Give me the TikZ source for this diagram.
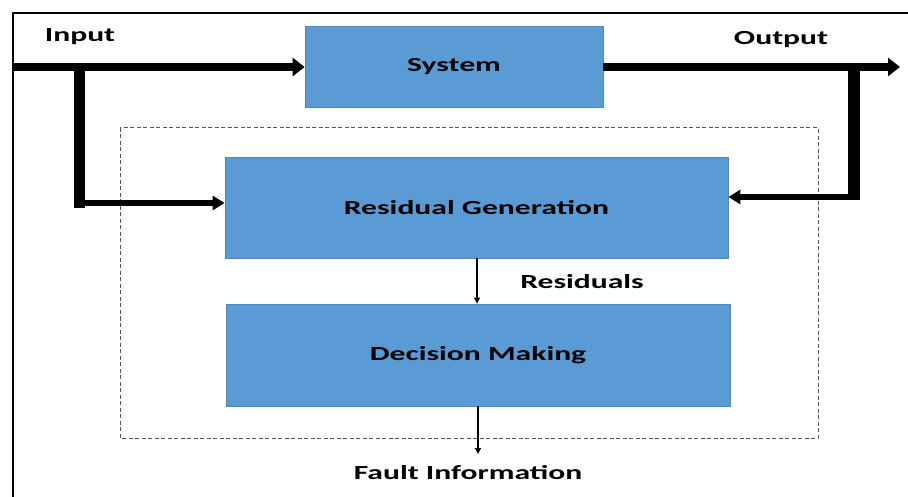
\documentclass[tikz,border=0pt]{standalone}
\usepackage{fontspec}
\setmainfont{Carlito}
\newfontfamily\widefont[FakeStretch=1.58]{Carlito}
\usetikzlibrary{arrows.meta}
\definecolor{boxfill}{HTML}{5B9BD5}
\definecolor{boxedge}{HTML}{4F88C0}
\definecolor{dashgray}{HTML}{555555}
\begin{document}
\begin{tikzpicture}[x=1pt,y=-1pt,
  block/.style={draw=boxedge,line width=0.8pt,fill=boxfill,inner sep=0pt,
    font=\widefont\bfseries\fontsize{20}{24}\selectfont,text=black},
  lbl/.style={font=\widefont\bfseries\fontsize{20}{24}\selectfont,inner sep=0pt},
  heavy/.style={line width=8pt},
  thin arrow/.style={line width=1.2pt,-{Triangle[length=6pt,width=6pt]}},
  big head/.style={-{Triangle[length=12pt,width=18pt]}},
  mid head/.style={-{Triangle[length=12pt,width=14pt]}}]
\useasboundingbox (0,0) rectangle (908,497);
% frame lines
\draw[line width=2.5pt] (13,497) -- (13,13) -- (910,13);

% blocks
\node[block,minimum width=298pt,minimum height=81pt] (sys) at (454,66.5) {System};
\node[block,minimum width=503pt,minimum height=101pt] (rg) at (476.5,207.5) {Residual Generation};
\node[block,minimum width=504pt,minimum height=102pt] (dm) at (478,355) {Decision Making};

% dashed enclosure
\draw[dashgray,line width=1pt,dash pattern=on 4pt off 2.5pt] (120,128) rectangle (818,438);

% labels
\node[lbl] (inlbl) at (80,37) {Input};
\node[lbl] (outlbl) at (781,40) {Output};
\node[lbl] (reslbl) at (582,282) {Residuals};
\node[lbl] (faultlbl) at (468,473) {Fault Information};

% signal coordinates
\coordinate (in0) at (12,67);
\coordinate (inbr) at (79,67);
\coordinate (out1) at (900,67);
\coordinate (outbr) at (854,67);
\coordinate (fault) at (478,454);

% input path and branch
\draw[heavy,big head] (in0) -- (sys.west |- in0);
\draw[line width=11pt] (inbr) -- (inbr |- 0,208);
\draw[line width=6pt,mid head] (73.5,203) -- (rg.west |- 0,203);

% output path and branch
\draw[heavy,big head] (sys.east |- out1) -- (out1);
\draw[line width=12pt] (outbr) -- (outbr |- 0,200);
\draw[line width=6pt,mid head] (860,197) -- (rg.east |- 0,197);

% residuals and decision output
\draw[thin arrow] (rg.south -| 477,0) -- (dm.north -| 477,0);
\draw[thin arrow] (dm.south -| 478,0) -- (fault);
\end{tikzpicture}
\end{document}
